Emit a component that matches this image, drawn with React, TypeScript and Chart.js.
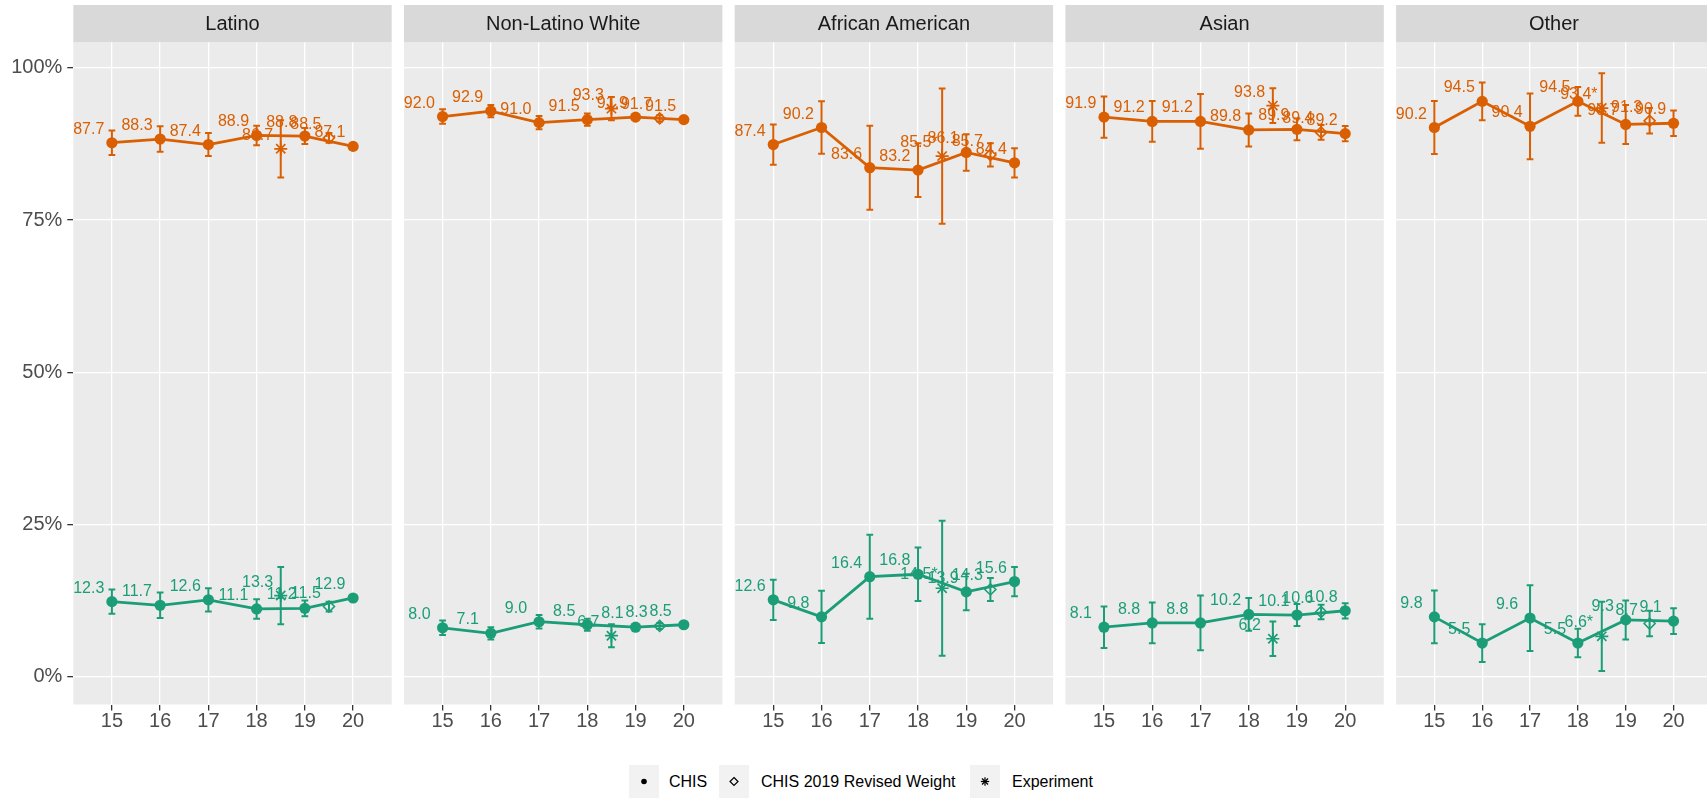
import React, { useEffect, useRef } from "react";
import { Chart, registerables } from "chart.js";

Chart.register(...registerables);

// ---------------- data ----------------
const panels = ["Latino", "Non-Latino White", "African American", "Asian", "Other"];
const years = [15, 16, 17, 18, 19, 20];
const yTicks = [0, 25, 50, 75, 100];

const chisOrange = [
  [87.7, 88.3, 87.4, 88.9, 88.8, 87.1],
  [92.0, 92.9, 91.0, 91.5, 91.9, 91.5],
  [87.4, 90.2, 83.6, 83.2, 86.1, 84.4],
  [91.9, 91.2, 91.2, 89.8, 89.9, 89.2],
  [90.2, 94.5, 90.4, 94.5, 90.7, 90.9],
];
const chisGreen = [
  [12.3, 11.7, 12.6, 11.1, 11.2, 12.9],
  [8.0, 7.1, 9.0, 8.5, 8.1, 8.5],
  [12.6, 9.8, 16.4, 16.8, 13.9, 15.6],
  [8.1, 8.8, 8.8, 10.2, 10.1, 10.8],
  [9.8, 5.5, 9.6, 5.5, 9.3, 9.1],
];
const chisMoe = [
  [2.0, 2.1, 1.9, 1.6, 1.3, 0.5],
  [1.2, 1.0, 1.1, 1.0, 0.4, 0.3],
  [3.3, 4.3, 6.9, 4.4, 3.0, 2.4],
  [3.4, 3.35, 4.5, 2.7, 1.8, 1.25],
  [4.35, 3.1, 5.4, 2.35, 3.2, 2.1],
];

const revisedYear = 19.5;
const revisedOrange = [88.5, 91.7, 85.7, 89.4, 91.3];
const revisedGreen = [11.5, 8.3, 14.3, 10.6, 8.7];
const revisedMoe = [0.8, 0.5, 1.9, 1.2, 2.1];

const experimentYear = 18.5;
const experimentOrange = [86.7, 93.3, 85.5, 93.8, 93.4];
const experimentGreen = [13.3, 6.7, 14.5, 6.2, 6.6];
const experimentMoe = [4.7, 1.9, 11.1, 2.85, 5.7];
const experimentSig = ["", "", "*", "", "*"];

const legendLabels = ["CHIS", "CHIS 2019 Revised Weight", "Experiment"];

// ---------------- style / layout ----------------
const ORANGE = "#D95F02";
const GREEN = "#1B9E77";
const FONT = "'Liberation Sans', Arial, Helvetica, sans-serif";
const CANVAS_W = 1720;
const CANVAS_H = 740;
const PANEL_LEFT = [73.3, 404, 734.7, 1065.4, 1396.1];
const PANEL_W = 318.4;
const STRIP_TOP = 5;
const PANEL_TOP = 42.3;
const PANEL_BOTTOM = 704.5;
const CAP = 0.07;
const NUDGE_X = -0.48;
const NUDGE_Y = 2.2;

const facetPlugin = {
  id: "facet",
  beforeDraw(chart: any, _args: any, opts: any) {
    const { ctx, chartArea: a } = chart;
    ctx.save();
    ctx.fillStyle = "#EBEBEB";
    ctx.fillRect(a.left, a.top, a.right - a.left, a.bottom - a.top);
    ctx.fillStyle = "#D9D9D9";
    ctx.fillRect(a.left, STRIP_TOP, a.right - a.left, a.top - STRIP_TOP);
    ctx.fillStyle = "#1A1A1A";
    ctx.font = `20px ${FONT}`;
    ctx.textAlign = "center";
    ctx.textBaseline = "middle";
    ctx.fillText(opts.title, (a.left + a.right) / 2, (STRIP_TOP + a.top) / 2 + 1);
    ctx.restore();
  },
};

const errorBarPlugin = {
  id: "errorBars",
  beforeDatasetsDraw(chart: any) {
    const { ctx } = chart;
    const xs = chart.scales.x;
    const ys = chart.scales.y;
    ctx.save();
    chart.data.datasets.forEach((ds: any) => {
      if (!ds.moe) return;
      ctx.strokeStyle = ds.borderColor;
      ctx.lineWidth = 2;
      ds.data.forEach((p: any, j: number) => {
        const m = ds.moe[j];
        const px = xs.getPixelForValue(p.x);
        const y1 = ys.getPixelForValue(p.y - m);
        const y2 = ys.getPixelForValue(p.y + m);
        const cw = xs.getPixelForValue(p.x + CAP) - px;
        ctx.beginPath();
        ctx.moveTo(px, y1);
        ctx.lineTo(px, y2);
        ctx.moveTo(px - cw, y1);
        ctx.lineTo(px + cw, y1);
        ctx.moveTo(px - cw, y2);
        ctx.lineTo(px + cw, y2);
        ctx.stroke();
      });
    });
    ctx.restore();
  },
};

const labelPlugin = {
  id: "valueLabels",
  afterDatasetsDraw(chart: any) {
    const { ctx } = chart;
    const xs = chart.scales.x;
    const ys = chart.scales.y;
    ctx.save();
    ctx.font = `16px ${FONT}`;
    ctx.textAlign = "center";
    ctx.textBaseline = "middle";
    chart.data.datasets.forEach((ds: any) => {
      if (!ds.labels) return;
      ctx.fillStyle = ds.borderColor;
      ds.data.forEach((p: any, j: number) => {
        ctx.fillText(ds.labels[j], xs.getPixelForValue(p.x + NUDGE_X), ys.getPixelForValue(p.y + NUDGE_Y));
      });
    });
    ctx.restore();
  },
};

function buildDatasets(i: number) {
  const groups = [
    { color: ORANGE, chis: chisOrange[i], rev: revisedOrange[i], exp: experimentOrange[i] },
    { color: GREEN, chis: chisGreen[i], rev: revisedGreen[i], exp: experimentGreen[i] },
  ];
  const sets: any[] = [];
  groups.forEach((g) => {
    sets.push({
      data: years.map((x, j) => ({ x, y: g.chis[j] })),
      moe: chisMoe[i],
      labels: g.chis.map((v) => v.toFixed(1)),
      showLine: true,
      borderColor: g.color,
      backgroundColor: g.color,
      borderWidth: 2.8,
      pointStyle: "circle",
      pointRadius: 5.6,
      pointBorderWidth: 0,
      pointBackgroundColor: g.color,
    });
    sets.push({
      data: [{ x: revisedYear, y: g.rev }],
      moe: [revisedMoe[i]],
      labels: [g.rev.toFixed(1)],
      showLine: false,
      borderColor: g.color,
      backgroundColor: "rgba(0,0,0,0)",
      pointStyle: "rectRot",
      pointRadius: 5.5,
      pointBorderWidth: 1.6,
      pointBorderColor: g.color,
      pointBackgroundColor: "rgba(0,0,0,0)",
    });
    sets.push({
      data: [{ x: experimentYear, y: g.exp }],
      moe: [experimentMoe[i]],
      labels: [g.exp.toFixed(1) + experimentSig[i]],
      showLine: false,
      borderColor: g.color,
      backgroundColor: g.color,
      pointStyle: "star",
      pointRadius: 6.5,
      pointBorderWidth: 1.7,
      pointBorderColor: g.color,
    });
  });
  return sets;
}

function Panel({ index }: { index: number }) {
  const ref = useRef<HTMLCanvasElement>(null);
  useEffect(() => {
    const first = index === 0;
    const chart = new Chart(ref.current as HTMLCanvasElement, {
      type: "scatter",
      data: { datasets: buildDatasets(index) },
      options: {
        animation: false,
        responsive: false,
        devicePixelRatio: 1,
        events: [],
        layout: {
          padding: {
            left: first ? 0 : PANEL_LEFT[index],
            right: CANVAS_W - PANEL_LEFT[index] - PANEL_W,
            top: PANEL_TOP,
            bottom: 0,
          },
        },
        plugins: {
          legend: { display: false },
          tooltip: { enabled: false },
          facet: { title: panels[index] },
        } as any,
        scales: {
          x: {
            type: "linear",
            min: 14.2,
            max: 20.8,
            afterBuildTicks: (s: any) => {
              s.ticks = years.map((v) => ({ value: v }));
            },
            afterFit: (s: any) => {
              s.height = CANVAS_H - PANEL_BOTTOM;
            },
            grid: { color: "#FFFFFF", lineWidth: 1.3, tickColor: "#333333", tickLength: 6, tickWidth: 1.3 },
            border: { display: false },
            ticks: {
              color: "#4D4D4D",
              font: { size: 20, family: FONT, lineHeight: 1 },
              padding: 1,
              maxRotation: 0,
              autoSkip: false,
              callback: (v: any) => String(v),
            },
          },
          y: {
            type: "linear",
            min: -4.6,
            max: 104.2,
            afterBuildTicks: (s: any) => {
              s.ticks = yTicks.map((v) => ({ value: v }));
            },
            afterFit: (s: any) => {
              s.width = first ? PANEL_LEFT[0] : 0;
            },
            grid: {
              color: "#FFFFFF",
              lineWidth: 1.3,
              tickColor: "#333333",
              tickLength: 6,
              tickWidth: 1.3,
              drawTicks: first,
            },
            border: { display: false },
            ticks: {
              display: first,
              color: "#4D4D4D",
              font: { size: 20, family: FONT },
              padding: 5,
              callback: (v: any) => v + "%",
            },
          },
        },
      } as any,
      plugins: [facetPlugin, errorBarPlugin, labelPlugin],
    });
    return () => chart.destroy();
  }, [index]);
  return (
    <canvas
      ref={ref}
      width={CANVAS_W}
      height={CANVAS_H}
      style={{ position: "absolute", left: 0, top: 0, width: CANVAS_W, height: CANVAS_H }}
    />
  );
}

function Glyph({ kind }: { kind: number }) {
  if (kind === 0) return <circle cx={15} cy={16.5} r={2.8} fill="#000" />;
  if (kind === 1)
    return <polygon points="15,12.5 19,16.5 15,20.5 11,16.5" fill="none" stroke="#000" strokeWidth={1.2} />;
  return (
    <g stroke="#000" strokeWidth={1.2}>
      <line x1={15} y1={12.3} x2={15} y2={20.7} />
      <line x1={10.8} y1={16.5} x2={19.2} y2={16.5} />
      <line x1={12} y1={13.5} x2={18} y2={19.5} />
      <line x1={12} y1={19.5} x2={18} y2={13.5} />
    </g>
  );
}

export default function App() {
  const boxLeft = [629, 719, 970];
  const textLeft = [669, 761, 1012];
  return (
    <div
      style={{
        position: "absolute",
        left: 0,
        top: 0,
        width: 1707,
        height: 801,
        overflow: "hidden",
        background: "#FFFFFF",
        fontFamily: FONT,
      }}
    >
      {panels.map((_, i) => (
        <Panel key={i} index={i} />
      ))}
      {legendLabels.map((label, k) => (
        <React.Fragment key={k}>
          <svg
            width={30}
            height={33}
            style={{ position: "absolute", left: boxLeft[k], top: 765, background: "#F2F2F2" }}
          >
            <Glyph kind={k} />
          </svg>
          <div
            style={{
              position: "absolute",
              left: textLeft[k],
              top: 772,
              fontSize: 16,
              lineHeight: "20px",
              color: "#000",
              whiteSpace: "nowrap",
            }}
          >
            {label}
          </div>
        </React.Fragment>
      ))}
    </div>
  );
}
